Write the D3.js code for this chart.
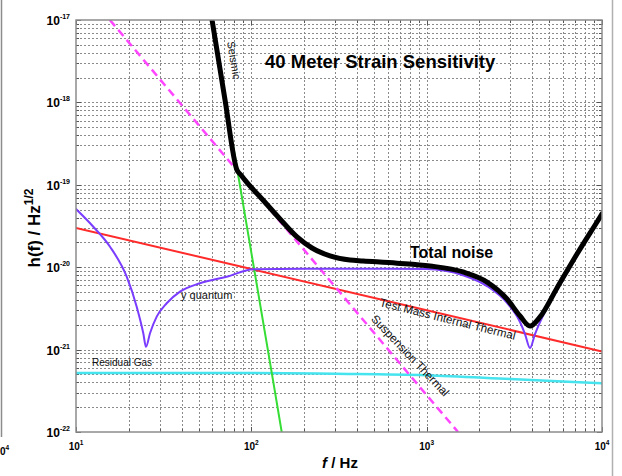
<!DOCTYPE html>
<html>
<head>
<meta charset="utf-8">
<script src="https://cdn.jsdelivr.net/npm/d3@7"></script>
<style>
  body { margin: 0; background: #fff; }
  svg { display: block; font-family: "Liberation Sans", Arial, sans-serif; }
</style>
</head>
<body>
<svg id="chart" width="622" height="476"></svg>
<script>
// Axis decades and their exponent labels
const xTickValues = [10, 100, 1000, 10000];
const xTickExps = ["1", "2", "3", "4"];
const yTickValues = [1e-22, 1e-21, 1e-20, 1e-19, 1e-18, 1e-17];
const yTickExps = ["-22", "-21", "-20", "-19", "-18", "-17"];

// Noise curves: [frequency (Hz), strain (1/sqrt(Hz))]
const totalNoise = [
  [59.7, 1.0e-17], [70.8, 1.07e-18], [82.8, 1.51e-19], [87.3, 1.315e-19], [92.0, 1.14e-19],
  [115.1, 6.73e-20], [145.7, 3.85e-20], [182.2, 2.33e-20], [221.8, 1.71e-20],
  [281, 1.37e-20], [365, 1.22e-20], [434, 1.19e-20], [677, 1.12e-20], [1045, 1.035e-20],
  [1612, 8.75e-21], [2209, 6.6e-21], [2872, 4.11e-21], [3407, 2.56e-21],
  [3885, 1.93e-21], [4431, 2.49e-21], [5540, 5.6e-21], [7202, 1.445e-20],
  [9365, 3.54e-20], [10000, 4.43e-20]
];
const quantum = [
  [10, 5.08e-20], [12.55, 3.1e-20], [15.63, 1.77e-20], [19.46, 7.67e-21],
  [22.19, 3.32e-21], [24.2, 1.58e-21], [25.07, 1.08e-21], [26.43, 1.58e-21],
  [28.86, 2.51e-21], [32.9, 3.65e-21], [39.2, 5.05e-21], [50.9, 6.38e-21],
  [72.4, 7.67e-21], [102.6, 9.44e-21], [200, 9.6e-21], [500, 9.6e-21],
  [1000, 9.5e-21], [1612, 8.0e-21], [2209, 5.9e-21], [2872, 3.68e-21],
  [3407, 2.16e-21], [3638, 1.545e-21], [3885, 1.045e-21], [4148, 1.545e-21],
  [4431, 2.16e-21], [5540, 5.28e-21], [7202, 1.37e-20], [10000, 4.5e-20]
];
const testMassThermal = [
  [10, 3.0e-20], [100, 9.5e-21], [1000, 3.0e-21], [10000, 9.5e-22]
];
const suspensionThermal = [
  [15.6, 1.0e-17], [100, 9.3e-20], [1000, 2.8e-22], [1510, 1.0e-22]
];
const seismic = [
  [59.7, 1.0e-17], [70.8, 1.07e-18], [82.8, 1.6e-19], [132.9, 4.27e-22], [149, 1.0e-22]
];
const residualGas = [
  [10, 5.2e-22], [100, 5.2e-22], [300, 5.1e-22], [1000, 4.9e-22],
  [3000, 4.4e-22], [10000, 3.9e-22]
];

const svg = d3.select("#chart");
const plot = { left: 76, right: 602, top: 20, bottom: 432 };

const x = d3.scaleLog().domain([10, 1e4]).range([plot.left, plot.right]);
const y = d3.scaleLog().domain([1e-22, 1e-17]).range([plot.bottom, plot.top]);

// Edges of the neighbouring panels
svg.append("line").attr("x1", 1.5).attr("x2", 1.5).attr("y1", 0).attr("y2", 437)
  .attr("stroke", "#8c8c8c").attr("stroke-width", 1.5);
svg.append("line").attr("x1", 612.5).attr("x2", 612.5).attr("y1", 0).attr("y2", 476)
  .attr("stroke", "#b0b0b0").attr("stroke-width", 1.5);
const stray = svg.append("text").attr("x", 0).attr("y", 455)
  .attr("font-size", 10).attr("font-weight", "bold");
stray.append("tspan").text("0");
stray.append("tspan").attr("font-size", 6.5).attr("dy", -5).text("4");

// Dotted grid on every log tick
const gx = x.ticks().filter(v => v > 10 && v < 1e4);
const gy = y.ticks().filter(v => v > 1e-22 * 1.0001 && v < 1e-17 * 0.9999);
const grid = svg.append("g").attr("stroke", "#8a8a8a").attr("stroke-width", 1)
  .attr("stroke-dasharray", "2,2");
grid.selectAll("line.vx").data(gx).join("line")
  .attr("x1", d => Math.round(x(d)) + 0.5).attr("x2", d => Math.round(x(d)) + 0.5)
  .attr("y1", plot.top).attr("y2", plot.bottom);
grid.selectAll("line.hy").data(gy).join("line")
  .attr("y1", d => Math.round(y(d)) + 0.5).attr("y2", d => Math.round(y(d)) + 0.5)
  .attr("x1", plot.left).attr("x2", plot.right);

// Inward tick marks on all four sides
const ticks = svg.append("g").attr("stroke", "#555").attr("stroke-width", 1);
const isMajor = v => Math.abs(Math.log10(v) - Math.round(Math.log10(v))) < 1e-6;
x.ticks().forEach(v => {
  const px = Math.round(x(v)) + 0.5, len = isMajor(v) ? 5 : 3;
  ticks.append("line").attr("x1", px).attr("x2", px).attr("y1", plot.bottom).attr("y2", plot.bottom - len);
  ticks.append("line").attr("x1", px).attr("x2", px).attr("y1", plot.top).attr("y2", plot.top + len);
});
y.ticks().forEach(v => {
  const py = Math.round(y(v)) + 0.5, len = isMajor(v) ? 5 : 3;
  ticks.append("line").attr("y1", py).attr("y2", py).attr("x1", plot.left).attr("x2", plot.left + len);
  ticks.append("line").attr("y1", py).attr("y2", py).attr("x1", plot.right).attr("x2", plot.right - len);
});

// Curves
svg.append("clipPath").attr("id", "plotClip").append("rect")
  .attr("x", plot.left).attr("y", plot.top)
  .attr("width", plot.right - plot.left).attr("height", plot.bottom - plot.top);
const curves = svg.append("g").attr("clip-path", "url(#plotClip)").attr("fill", "none")
  .attr("stroke-linejoin", "round").attr("stroke-linecap", "round");
const smooth = d3.line().x(d => x(d[0])).y(d => y(d[1])).curve(d3.curveMonotoneX);
const straight = d3.line().x(d => x(d[0])).y(d => y(d[1])).curve(d3.curveLinear);

curves.append("path").datum(residualGas).attr("d", smooth)
  .attr("stroke", "#45e4ee").attr("stroke-width", 2.5);
curves.append("path").datum(testMassThermal).attr("d", straight)
  .attr("stroke", "#ff2b2b").attr("stroke-width", 2);
curves.append("path").datum(seismic).attr("d", straight)
  .attr("stroke", "#35dd35").attr("stroke-width", 2);
curves.append("path").datum(suspensionThermal).attr("d", straight)
  .attr("stroke", "#ff45ff").attr("stroke-width", 2.5)
  .attr("stroke-dasharray", "8,5").attr("stroke-linecap", "butt");
curves.append("path").datum(quantum).attr("d", smooth)
  .attr("stroke", "#7a3cff").attr("stroke-width", 2);
curves.append("path").datum(totalNoise).attr("d", smooth)
  .attr("stroke", "#000").attr("stroke-width", 5);

// Frame
svg.append("rect").attr("x", plot.left).attr("y", plot.top)
  .attr("width", plot.right - plot.left).attr("height", plot.bottom - plot.top)
  .attr("fill", "none").attr("stroke", "#8c8c8c").attr("stroke-width", 1.5);

// Tick labels
xTickValues.forEach((v, i) => {
  const t = svg.append("text").attr("x", x(v)).attr("y", 450)
    .attr("text-anchor", "middle").attr("font-size", 10).attr("font-weight", "bold");
  t.append("tspan").text("10");
  t.append("tspan").attr("font-size", 6.5).attr("dy", -5).text(xTickExps[i]);
});
yTickValues.forEach((v, i) => {
  const t = svg.append("text").attr("x", 70).attr("y", y(v) + 5)
    .attr("text-anchor", "end").attr("font-size", 12).attr("font-weight", "bold");
  t.append("tspan").text("10");
  t.append("tspan").attr("font-size", 7).attr("dy", -6).text(yTickExps[i]);
});

// Axis titles
const xt = svg.append("text").attr("x", 340).attr("y", 468).attr("text-anchor", "middle")
  .attr("font-size", 15).attr("font-weight", "bold");
xt.append("tspan").attr("font-style", "italic").text("f");
xt.append("tspan").text(" / Hz");

const yt = svg.append("text").attr("transform", "translate(40,228) rotate(-90)")
  .attr("text-anchor", "middle").attr("font-size", 17).attr("font-weight", "bold");
yt.append("tspan").text("h(f) / Hz");
yt.append("tspan").attr("font-size", 12).attr("dy", -7).text("1/2");

// Chart title and curve annotations
svg.append("text").attr("x", 265).attr("y", 68).attr("font-size", 18.5)
  .attr("font-weight", "bold").text("40 Meter Strain Sensitivity");
svg.append("text").attr("x", 410).attr("y", 258).attr("font-size", 16)
  .attr("font-weight", "bold").text("Total noise");
svg.append("text").attr("x", 181).attr("y", 299).attr("font-size", 11)
  .attr("fill", "#111").text("y quantum");
svg.append("text").attr("x", 92).attr("y", 366).attr("font-size", 10)
  .attr("fill", "#111").text("Residual Gas");
svg.append("text").attr("transform", "translate(227,42) rotate(80.5)")
  .attr("font-size", 11).attr("fill", "#111").text("Seismic");
svg.append("text").attr("transform", "translate(379,306) rotate(14)")
  .attr("font-size", 11.6).attr("fill", "#111").text("Test Mass Internal Thermal");
svg.append("text").attr("transform", "translate(370.5,319.5) rotate(46.5)")
  .attr("font-size", 11.7).attr("fill", "#111").text("Suspension Thermal");
</script>
</body>
</html>
